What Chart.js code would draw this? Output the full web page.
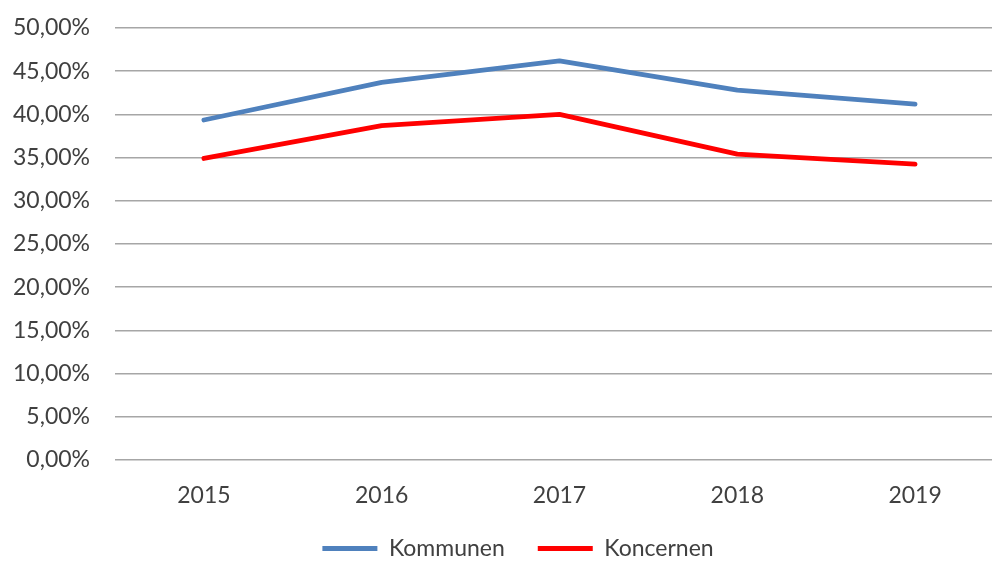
<!DOCTYPE html>
<html>
<head>
<meta charset="utf-8">
<script src="https://cdn.jsdelivr.net/npm/chart.js@4/dist/chart.umd.min.js"></script>
<style>
  html, body { margin: 0; padding: 0; background: #fff; overflow: hidden; width: 992px; height: 561px; }
  #wrap { position: absolute; left: 0; top: 0; }
</style>
</head>
<body>
<div id="wrap"><canvas id="c" width="1036" height="570"></canvas></div>
<script>
const categories = ['2015', '2016', '2017', '2018', '2019'];
const kommunen = [39.35, 43.7, 46.2, 42.8, 41.2];
const koncernen = [34.9, 38.7, 40.0, 35.4, 34.25];
const seriesNames = ['Kommunen', 'Koncernen'];
const yTicks = [0, 5, 10, 15, 20, 25, 30, 35, 40, 45, 50];

const FONT = 'Lato';
const textColor = '#404040';

new Chart(document.getElementById('c'), {
  type: 'line',
  data: {
    labels: categories,
    datasets: [
      { label: seriesNames[0], data: kommunen, borderColor: '#4F81BD', backgroundColor: '#4F81BD',
        borderWidth: 4.8, pointRadius: 0, tension: 0, borderCapStyle: 'round', borderJoinStyle: 'round' },
      { label: seriesNames[1], data: koncernen, borderColor: '#FF0000', backgroundColor: '#FF0000',
        borderWidth: 4.8, pointRadius: 0, tension: 0, borderCapStyle: 'round', borderJoinStyle: 'round' }
    ]
  },
  options: {
    responsive: false,
    animation: false,
    devicePixelRatio: 1,
    layout: { padding: { top: 28, left: 0, right: 0, bottom: 0 } },
    plugins: {
      tooltip: { enabled: false },
      legend: {
        position: 'bottom',
        labels: {
          font: { family: FONT, size: 23 },
          color: textColor,
          boxWidth: 55,
          boxHeight: 5,
          padding: 33,
          generateLabels(chart) {
            return chart.data.datasets.map((ds, i) => ({
              text: ds.label, fillStyle: ds.borderColor, strokeStyle: ds.borderColor,
              lineWidth: 0, hidden: false, datasetIndex: i, fontColor: textColor
            }));
          }
        }
      }
    },
    scales: {
      x: {
        offset: true,
        grid: { display: false, drawTicks: false },
        border: { display: false },
        ticks: { font: { family: FONT, size: 23 }, color: textColor, padding: 22, maxRotation: 0 },
        afterFit(s) { s.height = 44; }
      },
      y: {
        min: 0, max: 50,
        afterBuildTicks(s) { s.ticks = yTicks.map(v => ({ value: v })); },
        grid: { color: '#a6a6a6', lineWidth: 1.5, drawTicks: false },
        border: { display: false },
        ticks: {
          font: { family: FONT, size: 23 }, color: textColor, padding: 25,
          callback: v => v.toFixed(2).replace('.', ',') + '%'
        },
        afterFit(s) { s.width = 115; s.paddingTop = 0; s.paddingBottom = 0; }
      },
      y2: {
        position: 'right', min: 0, max: 50,
        grid: { display: false, drawTicks: false },
        border: { display: false },
        ticks: { display: false },
        afterFit(s) { s.width = 32; s.paddingTop = 0; s.paddingBottom = 0; }
      }
    }
  }
});
</script>
</body>
</html>
